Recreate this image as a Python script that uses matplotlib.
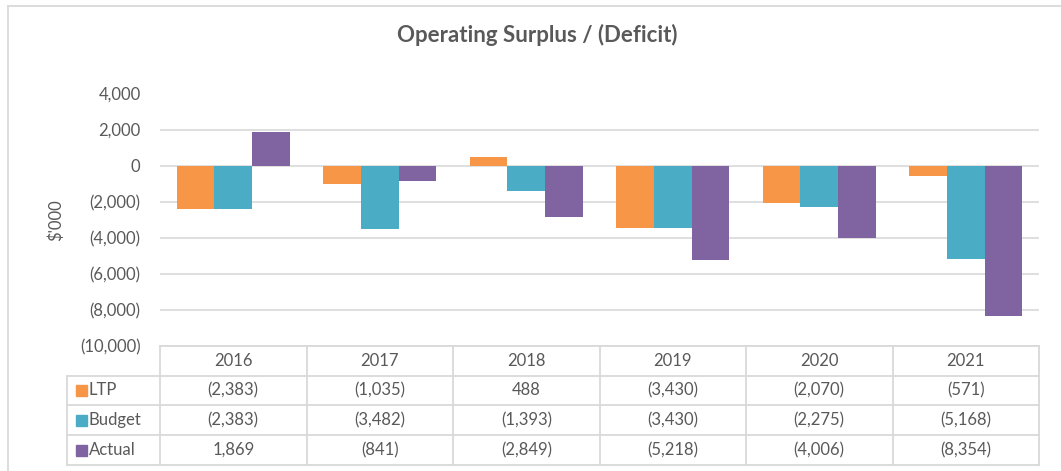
import matplotlib.pyplot as plt
import matplotlib.transforms as mtransforms
from matplotlib.patches import Rectangle
from matplotlib.lines import Line2D

years = ['2016', '2017', '2018', '2019', '2020', '2021']
ltp = [-2383, -1035, 488, -3430, -2070, -571]
budget = [-2383, -3482, -1393, -3430, -2275, -5168]
actual = [1869, -841, -2849, -5218, -4006, -8354]

series = [('LTP', ltp, '#F79646'),
          ('Budget', budget, '#4BACC6'),
          ('Actual', actual, '#8064A2')]


def fmt(v):
    s = f'{abs(v):,.0f}'
    return f'({s})' if v < 0 else s


plt.rcParams['font.family'] = ['Lato', 'DejaVu Sans']
text_col = '#595959'
grid_col = '#D9D9D9'
fs = 12

W, H = 1061, 471
fig = plt.figure(figsize=(W / 100, H / 100), dpi=100)
left, right, top, bottom = 160, 1039, 93.5, 346.2
ax = fig.add_axes([left / W, 1 - bottom / H, (right - left) / W, (bottom - top) / H])

# clustered bars
bw = 0.257
x = list(range(len(years)))
for k, (name, vals, col) in enumerate(series):
    ax.bar([i + (k - 1) * bw for i in x], vals, width=bw, color=col, zorder=3)

ax.set_xlim(-0.5, len(years) - 0.5)
ax.set_ylim(-10000, 4000)
yt = list(range(-10000, 4001, 2000))
ax.set_yticks(yt)
ax.set_yticklabels([fmt(v) for v in yt], color=text_col, fontsize=fs)
ax.tick_params(axis='y', length=0, pad=14)
ax.set_xticks([])
ax.yaxis.grid(True, color=grid_col, linewidth=1.2, zorder=0)
for sp in ax.spines.values():
    sp.set_visible(False)
ax.set_ylabel("$'000", color=text_col, fontsize=fs)
ax.yaxis.set_label_coords((64 - left) / (right - left), 0.5)

# data table under the axis: x in category units, y in pixels from top
tr = mtransforms.blended_transform_factory(
    ax.transData, mtransforms.Affine2D().scale(1, -1).translate(0, H))
rows = [346.2, 375.5, 405, 435, 465]
unit = (right - left) / len(years)
x_leg = -0.5 - (left - 67) / unit
x_end = len(years) - 0.5
lkw = dict(color=grid_col, linewidth=1.3, transform=tr, clip_on=False)

ax.add_line(Line2D([-0.5, x_end], [rows[0], rows[0]], **lkw))
for r in rows[1:]:
    ax.add_line(Line2D([x_leg, x_end], [r, r], **lkw))
ax.add_line(Line2D([x_leg, x_leg], [rows[1], rows[-1]], **lkw))
for i in range(len(years) + 1):
    ax.add_line(Line2D([i - 0.5, i - 0.5], [rows[0], rows[-1]], **lkw))

tkw = dict(color=text_col, fontsize=fs, transform=tr, clip_on=False,
           ha='center', va='center')
for i, yr in enumerate(years):
    ax.text(i, (rows[0] + rows[1]) / 2, yr, **tkw)
for k, (name, vals, col) in enumerate(series):
    yc = (rows[k + 1] + rows[k + 2]) / 2
    ax.add_patch(Rectangle((x_leg + 9 / unit, yc - 5.5), 11 / unit, 11,
                           color=col, transform=tr, clip_on=False))
    ax.text(x_leg + 22 / unit, yc, name, **{**tkw, 'ha': 'left'})
    for i, v in enumerate(vals):
        ax.text(i, yc, fmt(v), **tkw)

fig.text(537 / W, 1 - 35 / H, 'Operating Surplus / (Deficit)', ha='center',
         va='center', fontsize=16, fontweight='bold', color=text_col)

# outer chart frame
fig.add_artist(Line2D([8 / W, 1], [1 - 5.5 / H] * 2, color=grid_col, linewidth=1.3))
fig.add_artist(Line2D([8 / W] * 2, [0, 1 - 5.5 / H], color=grid_col, linewidth=1.3))

fig.savefig('out.png', dpi=100)
